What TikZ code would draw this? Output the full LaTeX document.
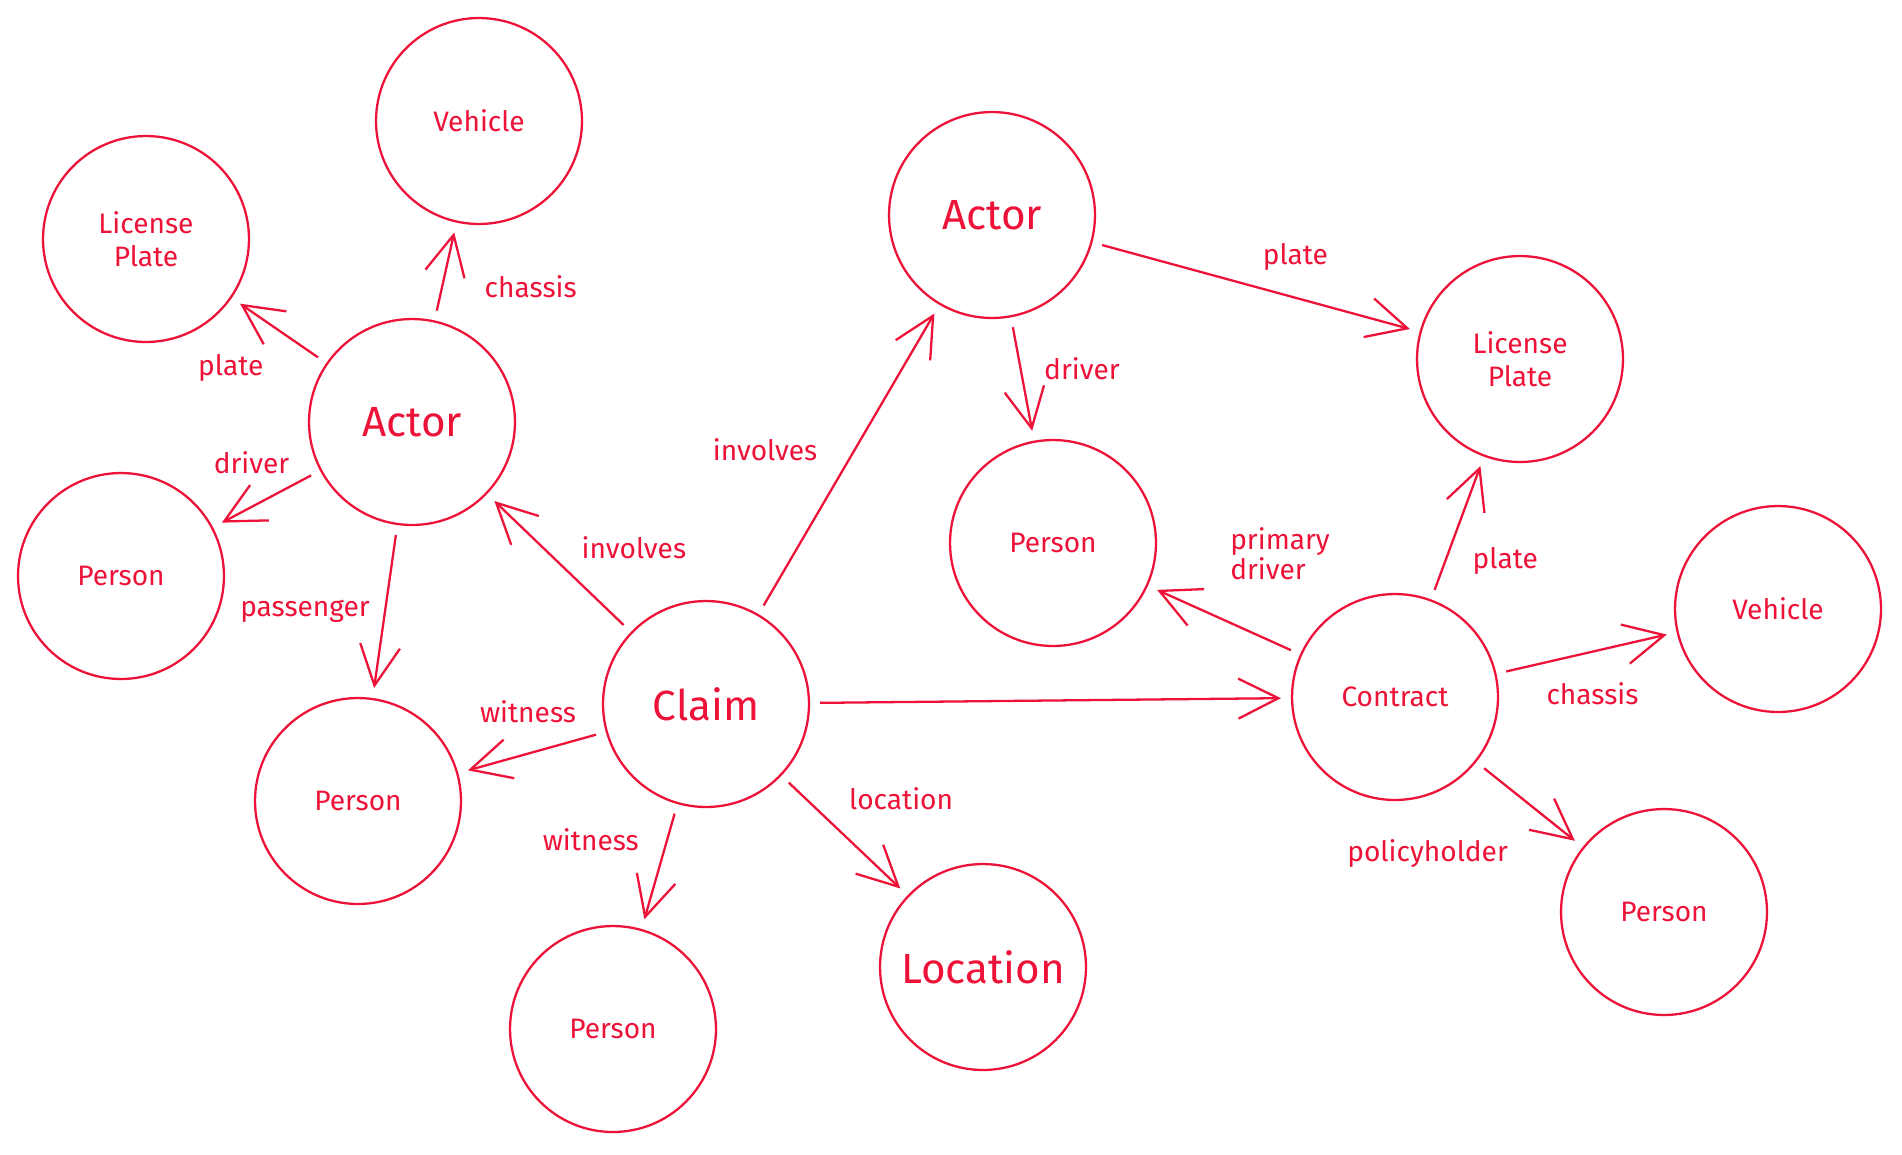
\documentclass[tikz,border=0pt]{standalone}
\usepackage{fontspec}
\setmainfont{Fira Sans}
\usetikzlibrary{arrows.meta}
\definecolor{sketchred}{RGB}{236,18,56}
\tikzset{
  entity/.style={circle, draw, line width=1.3pt, minimum size=4.12cm, align=center, font=\fontsize{16}{19}\selectfont},
  bigentity/.style={entity, font=\fontsize{24}{28}\selectfont},
  rel/.style={-{Straight Barb[length=0.8cm, width=0.8cm, line width=1.3pt]}, line width=1.3pt, shorten >=0.2cm, shorten <=0.2cm},
  lbl/.style={font=\fontsize{16}{17}\selectfont, align=left, inner sep=2pt}
}
\begin{document}
\begin{tikzpicture}[x=0.02cm, y=-0.02cm, sketchred]
        \useasboundingbox (0,0) rectangle (1902,1154);
        % Nodes
        \node(veh1) [entity] at (479,121) {Vehicle};
        \node(plate1) [entity] at (146,239) {License\\Plate};
        \node(actor1) [bigentity] at (412,422) {Actor};
        \node(pers1) [entity] at (121,576) {Person};
        \node(pers2) [entity] at (358,801) {Person};
        \node(claim) [bigentity] at (706,704) {Claim};
        \node(pers3) [entity] at (613,1029) {Person};
        \node(loc) [bigentity] at (983,967) {Location};
        \node(actor2) [bigentity] at (992,215) {Actor};
        \node(pers4) [entity] at (1053,543) {Person};
        \node(plate2) [entity] at (1520,359) {License\\Plate};
        \node(contract) [entity] at (1395,697) {Contract};
        \node(veh2) [entity] at (1778,609) {Vehicle};
        \node(pers5) [entity] at (1664,912) {Person};

        % Edges
        \draw[rel] (actor1) -- node[lbl, right=6pt, shift={(24,15)}] {chassis} (veh1);
        \draw[rel] (actor1) -- node[lbl, below left, shift={(-11,19)}] {plate} (plate1);
        \draw[rel] (actor1) -- node[lbl, above=4pt, shift={(-15,-13)}] {driver} (pers1);
        \draw[rel] (actor1) -- node[lbl, left=6pt] {passenger} (pers2);
        \draw[rel] (claim) -- node[lbl, above right, shift={(18,0)}] {involves} (actor1);
        \draw[rel] (claim) -- node[lbl, above=4pt, shift={(-4,-18)}] {witness} (pers2);
        \draw[rel] (claim) -- node[lbl, left=8pt, shift={(-2,-27)}] {witness} (pers3);
        \draw[rel] (claim) -- node[lbl, above right, shift={(0,-21)}] {location} (loc);
        \draw[rel] (claim) -- node[lbl, left=8pt, shift={(-13,-10)}] {involves} (actor2);
        \draw[rel] (claim) -- (contract);
        \draw[rel] (actor2) -- node[lbl, above=6pt, pos=0.55, shift={(23,-6)}] {plate} (plate2);
        \draw[rel] (actor2) -- node[lbl, right=4pt, shift={(10,-10)}] {driver} (pers4);
        \draw[rel] (contract) -- node[lbl, above right, pos=0.45, shift={(-6,-39)}] {primary\\driver} (pers4);
        \draw[rel] (contract) -- node[lbl, right=6pt, shift={(0,33)}] {plate} (plate2);
        \draw[rel] (contract) -- node[lbl, below=4pt, shift={(6,18)}] {chassis} (veh2);
        \draw[rel] (contract) -- node[lbl, below left, shift={(-17,30)}] {policyholder} (pers5);

    \end{tikzpicture}
\end{document}
